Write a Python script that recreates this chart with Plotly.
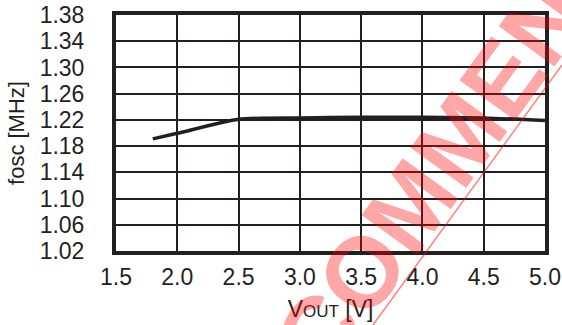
import plotly.graph_objects as go

# Data
vout = [1.8, 2.0, 2.5, 3.0, 3.5, 4.0, 4.5, 5.0]
fosc = [1.191, 1.1995, 1.221, 1.223, 1.224, 1.224, 1.223, 1.219]

x_ticks = [1.5, 2.0, 2.5, 3.0, 3.5, 4.0, 4.5, 5.0]
x_tick_labels = ["1.5", "2.0", "2.5", "3.0", "3.5", "4.0", "4.5", "5.0"]
y_ticks = [1.02, 1.06, 1.10, 1.14, 1.18, 1.22, 1.26, 1.30, 1.34, 1.38]
y_tick_labels = ["1.02", "1.06", "1.10", "1.14", "1.18", "1.22", "1.26", "1.30", "1.34", "1.38"]

INK = "#231f20"
FONT = "Liberation Sans, Arial, sans-serif"

fig = go.Figure()
fig.add_trace(go.Scatter(x=vout, y=fosc, mode="lines",
                         line=dict(color=INK, width=3.5, shape="spline", smoothing=0.6),
                         showlegend=False, hoverinfo="skip"))

fig.update_layout(
    width=562, height=325,
    margin=dict(l=116, r=17, t=15, b=74),
    paper_bgcolor="white", plot_bgcolor="white",
    font=dict(family=FONT, color=INK, size=23),
    xaxis=dict(range=[1.5, 5.0], tickvals=x_ticks, ticktext=x_tick_labels,
               showgrid=True, gridcolor=INK, gridwidth=2,
               showline=True, linecolor=INK, linewidth=4, mirror=True,
               ticks="", zeroline=False, ticklabelstandoff=2, automargin=False,
               tickfont=dict(size=23),
               title=dict(text="V<span style='font-size:17px'>OUT</span> [V]",
                          font=dict(size=23), standoff=13)),
    yaxis=dict(range=[1.02, 1.38], tickvals=y_ticks, ticktext=y_tick_labels,
               showgrid=True, gridcolor=INK, gridwidth=2,
               showline=True, linecolor=INK, linewidth=4, mirror=True,
               ticks="", zeroline=False, ticklabelstandoff=23, automargin=False,
               tickfont=dict(size=23),
               title=dict(text="fosc [MHz]", font=dict(size=22), standoff=10)),
)

# Watermark
fig.add_annotation(text="<b>RECOMMENDED</b>", xref="paper", yref="paper",
                   x=(452 - 116) / 429, y=(251 - 148) / 236,
                   xanchor="center", yanchor="middle", showarrow=False,
                   textangle=-54,
                   font=dict(family=FONT, size=100, color="rgba(255,0,0,0.35)"))
fig.add_shape(type="line", xref="paper", yref="paper",
              x0=(373 - 116) / 429, y0=(251 - 325) / 236,
              x1=(562 - 116) / 429, y1=(251 - 65) / 236,
              line=dict(color="rgba(255,0,0,0.5)", width=1.5))

fig.write_html("out.html", config={"displayModeBar": False},
               post_script="document.body.style.margin='0';")
